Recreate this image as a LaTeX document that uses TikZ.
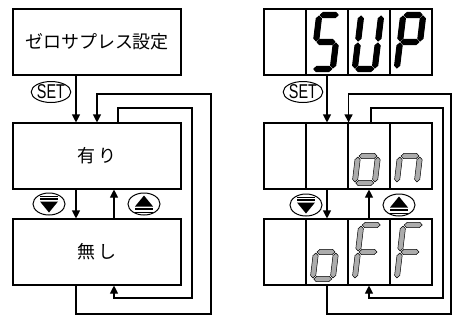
\documentclass[tikz,border=0pt]{standalone}
\usepackage{fontspec}
\usepackage{graphicx}
\newfontfamily\jp{Noto Sans CJK JP}
\newfontfamily\lsans{Liberation Sans}
\usetikzlibrary{arrows.meta,shapes.geometric}

% seven-segment shapes (local coords, y downward)
\def\ssa{(-9,-27)--(-6.4,-29.6)--(6.4,-29.6)--(9,-27)--(6.4,-24.4)--(-6.4,-24.4)--cycle}
\def\ssg{(-9,0)--(-6.4,-2.6)--(6.4,-2.6)--(9,0)--(6.4,2.6)--(-6.4,2.6)--cycle}
\def\ssd{(-9,27)--(-6.4,24.4)--(6.4,24.4)--(9,27)--(6.4,29.6)--(-6.4,29.6)--cycle}
\def\ssf{(-10,-26)--(-7.4,-23.4)--(-7.4,-3.6)--(-10,-1)--(-12.6,-3.6)--(-12.6,-23.4)--cycle}
\def\ssb{(10,-26)--(12.6,-23.4)--(12.6,-3.6)--(10,-1)--(7.4,-3.6)--(7.4,-23.4)--cycle}
\def\sse{(-10,1)--(-7.4,3.6)--(-7.4,23.4)--(-10,26)--(-12.6,23.4)--(-12.6,3.6)--cycle}
\def\ssc{(10,1)--(12.6,3.6)--(12.6,23.4)--(10,26)--(7.4,23.4)--(7.4,3.6)--cycle}

\newcommand\segdigit[4]{%
  \begin{scope}[shift={(#1,#2)},xslant=0.12]
    \foreach \s in {#3}{\path[#4] \csname ss\s\endcsname;}
  \end{scope}}

\newcommand\downicon[1]{%
  \draw[line width=0.8pt] ([shift={(-9,-8)}]#1.center) -- ([shift={(9,-8)}]#1.center);
  \draw[line width=1.6pt] ([shift={(-9,-5.2)}]#1.center) -- ([shift={(9,-5.2)}]#1.center);
  \fill ([shift={(-9,-2.5)}]#1.center) -- ([shift={(9,-2.5)}]#1.center) -- ([shift={(0,8.5)}]#1.center) -- cycle;}
\newcommand\upicon[1]{%
  \draw[line width=0.8pt] ([shift={(-9,8)}]#1.center) -- ([shift={(9,8)}]#1.center);
  \draw[line width=1.6pt] ([shift={(-9,5.2)}]#1.center) -- ([shift={(9,5.2)}]#1.center);
  \fill ([shift={(-9,2.5)}]#1.center) -- ([shift={(9,2.5)}]#1.center) -- ([shift={(0,-8.5)}]#1.center) -- cycle;}

\tikzset{
  box/.style={draw, line width=1.1pt, minimum width=168pt, minimum height=66pt, inner sep=0pt,
              font=\jp\fontsize{18}{18}\selectfont},
  cell/.style={draw, line width=1.1pt, minimum width=42pt, minimum height=66pt, inner sep=0pt},
  conn/.style={line width=1.1pt},
  arr/.style={conn, -{Triangle[length=8pt,width=8pt]}},
  setlbl/.style={draw, ellipse, line width=1pt, minimum width=38pt, minimum height=21pt, inner sep=0pt,
                 font=\lsans\fontsize{20}{20}\selectfont},
  btn/.style={draw, ellipse, line width=1pt, minimum width=32pt, minimum height=22pt, inner sep=0pt},
  blackseg/.style={fill=black, draw=black, line width=1pt, line join=round},
  grayseg/.style={fill=gray!65, draw=black, line width=0.5pt},
}

\begin{document}
\begin{tikzpicture}[x=1pt,y=-1pt]
\useasboundingbox[fill=white] (0,0) rectangle (453,325);

% ---------- left side ----------
\node[box] (zs) at (97,42) {ゼロサプレス設定};
\node[box] (ari) at (97,156) {有\hspace{3pt}り};
\node[box] (nashi) at (97,252) {無\hspace{3pt}し};
\node[setlbl] (setL) at (51,92) {\scalebox{0.72}[1]{SET}};
\node[btn] (dnL) at (49,204) {};
\node[btn] (upL) at (144,204) {};
\downicon{dnL}
\upicon{upL}

\coordinate (lo1) at (211,314);
\coordinate (lo2) at (211,94);
\coordinate (li1) at (192,108);
\coordinate (li2) at (192,298);

\draw[arr] ([xshift=-21pt]zs.south) -- ([xshift=-21pt]ari.north);
\draw[arr] ([xshift=-21pt]nashi.south) |- (lo1) -- (lo2) -| (ari.north);
\draw[arr] ([xshift=21pt]ari.north) |- (li1) -- (li2) -| ([xshift=17pt]nashi.south);
\draw[arr] ([xshift=-21pt]ari.south) -- ([xshift=-21pt]nashi.north);
\draw[arr] ([xshift=17pt]nashi.north) -- ([xshift=17pt]ari.south);

% ---------- right side ----------
\foreach \i/\x in {1/285,2/327,3/369,4/411}{
  \node[cell] (t\i) at (\x,42) {};
  \node[cell] (u\i) at (\x,156) {};
  \node[cell] (l\i) at (\x,252) {};
}
\segdigit{326}{42}{a,f,g,c,d}{blackseg}
\segdigit{368}{42}{f,e,d,c,b}{blackseg}
\segdigit{410}{42}{a,b,f,g,e}{blackseg}

\segdigit{368}{156}{g,c,d,e}{grayseg}
\segdigit{410}{156}{g,c,e}{grayseg}

\segdigit{326}{252}{g,c,d,e}{grayseg}
\segdigit{368}{252}{a,f,g,e}{grayseg}
\segdigit{410}{252}{a,f,g,e}{grayseg}

\node[setlbl] (setR) at (303,92) {\scalebox{0.72}[1]{SET}};
\node[btn] (dnR) at (306,205) {};
\node[btn] (upR) at (399,205) {};
\downicon{dnR}
\upicon{upR}

\coordinate (ro1) at (451,314);
\coordinate (ro2) at (451,94);
\coordinate (ri1) at (443,108);
\coordinate (ri2) at (443,298);

\draw[arr] (t2.south) -- (u2.north);
\draw[arr] (l2.south) |- (ro1) -- (ro2) -| (u2.north east);
\draw[arr] ([xshift=2pt]u3.north) |- (ri1) -- (ri2) -| (l3.south);
\draw[arr] (u2.south) -- (l2.north);
\draw[arr] (l3.north) -- (u3.south);
\end{tikzpicture}
\end{document}
